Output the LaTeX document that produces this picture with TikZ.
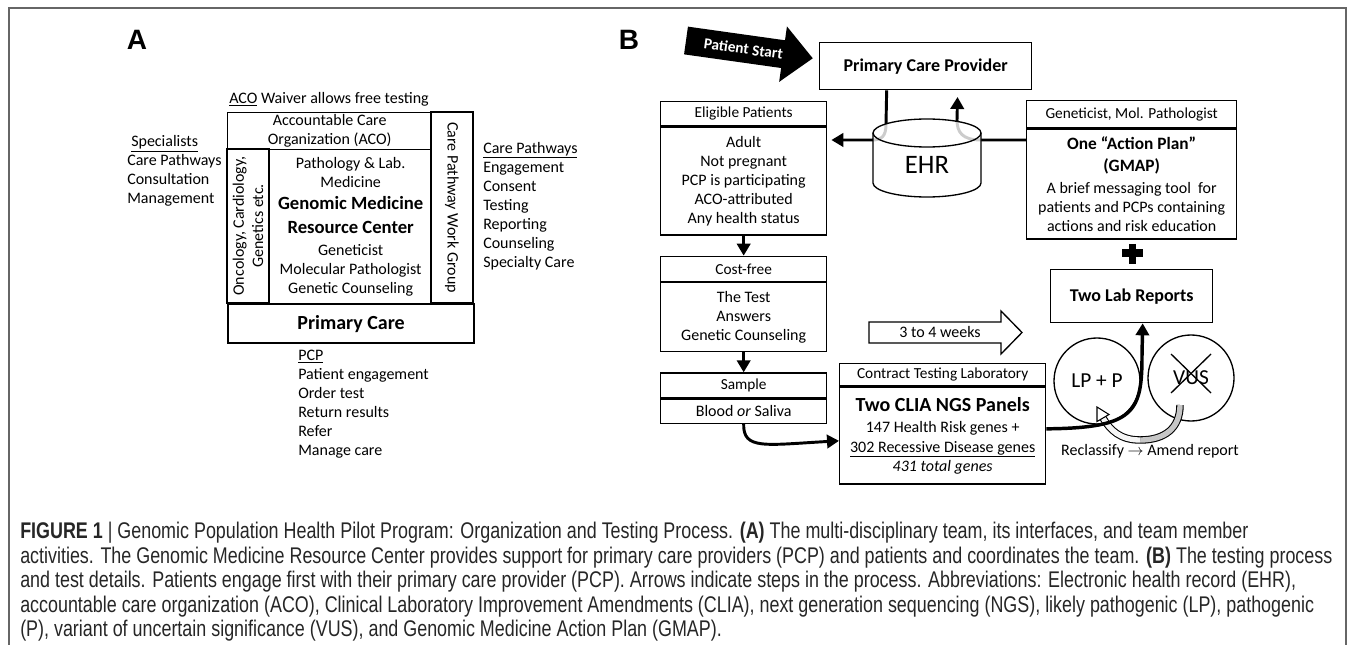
\documentclass[tikz,border=0pt]{standalone}
\usepackage{fontspec}
\setmainfont{Carlito}
\newfontfamily\capfont[FakeStretch=0.79]{Liberation Sans}
\newfontfamily\lblfont{Liberation Sans}
\usetikzlibrary{arrows.meta,positioning}

\newcommand{\bsz}[2]{{\fontsize{#1}{#1}\selectfont\bfseries #2}}

\begin{document}
\begin{tikzpicture}[x=0.75pt,y=-0.75pt,
    font=\fontsize{12}{14.3}\selectfont,
    box/.style={draw,line width=1pt,inner sep=0pt,align=center},
    hd/.style={box,font=\fontsize{11.5}{13}\selectfont},
    lst/.style={align=left,anchor=west,inner sep=0pt},
    panel/.style={font=\lblfont\bfseries\fontsize{21}{24}\selectfont},
    flow/.style={line width=2.2pt,-{Triangle[length=9pt,width=10pt]}}]
  \useasboundingbox (0,0) rectangle (1355,645);
  \draw[black!60,line width=0.8pt] (9,645) -- (9,8) -- (1346,8) -- (1346,645);

  % panel A
  \node[panel] (lA) at (137,40) {A};
  \node[anchor=west,inner sep=0pt] (waiver) at (229,99) {\underline{ACO} Waiver allows free testing};
  \node[box,anchor=north west,minimum width=153pt,minimum height=27.75pt] (aco) at (227,112)
    {Accountable Care\\Organization (ACO)};
  \node[box,rotate=90,minimum width=115.5pt,minimum height=31.5pt] (onc) at (248,226)
    {Oncology, Cardiology,\\Genetics etc.};
  \node[box,anchor=north west,minimum width=121.5pt,minimum height=115.5pt] (gmrc) at (269,149)
    {Pathology \& Lab.\\Medicine\\[2pt]\bsz{14}{Genomic Medicine}\\[4pt]\bsz{14}{Resource Center}\\[2pt]
     Geneticist\\Molecular Pathologist\\Genetic Counseling};
  \node[box,rotate=-90,minimum width=143.25pt,minimum height=31.5pt] (cpwg) at (452,207.5)
    {Care Pathway Work Group};
  \node[box,anchor=north west,line width=1.6pt,minimum width=184.5pt,minimum height=29.25pt,
    font=\bfseries\fontsize{15}{18}\selectfont] (pc) at (227,303) {Primary Care};
  \node[lst] (spec) at (127,171) {\hspace*{3pt}\underline{Specialists}\\Care Pathways\\Consultation\\Management};
  \node[lst] (paths) at (483,206) {\underline{Care Pathways}\\Engagement\\Consent\\Testing\\Reporting\\Counseling\\Specialty Care};
  \node[lst] (pcpl) at (298,404.5) {\underline{PCP}\\Patient engagement\\Order test\\Return results\\Refer\\Manage care};

  % panel B
  \node[panel] (lB) at (629,40) {B};
  \begin{scope}[shift={(686,40.5)},rotate=-8]
    \fill (0,-14) -- (98,-14) -- (98,-28) -- (128,0) -- (98,28) -- (98,14) -- (0,14) -- cycle;
    \node[text=white,rotate=-8,font=\bfseries\fontsize{11.5}{13}\selectfont] (start) at (58,0) {Patient Start};
  \end{scope}
  \node[box,anchor=north west,minimum width=159pt,minimum height=35.25pt,
    font=\bfseries\fontsize{13.5}{16}\selectfont] (pcp) at (819,42) {Primary Care Provider};

  \node[hd,anchor=north west,minimum width=124.5pt,minimum height=18pt] (eligh) at (660,101) {Eligible Patients};
  \node[box,minimum width=124.5pt,minimum height=81pt,below=0pt of eligh] (eligb)
    {Adult\\Not pregnant\\PCP is participating\\ACO-attributed\\Any health status};
  \node[hd,minimum width=124.5pt,minimum height=18.75pt,below=15pt of eligb] (costh) {Cost-free};
  \node[box,minimum width=124.5pt,minimum height=51.75pt,below=0pt of costh] (costb)
    {The Test\\Answers\\Genetic Counseling};
  \node[hd,minimum width=124.5pt,minimum height=18.75pt,below=15pt of costb] (samph) {Sample};
  \node[box,minimum width=124.5pt,minimum height=18pt,below=0pt of samph] (sampb) {Blood \textit{or} Saliva};

  \node[hd,anchor=north west,minimum width=157.5pt,minimum height=20.25pt] (gmaph) at (1026,100)
    {Geneticist, Mol. Pathologist};
  \node[box,minimum width=157.5pt,minimum height=82.5pt,below=0pt of gmaph] (gmapb)
    {\bsz{13}{One “Action Plan”}\\[2pt]\bsz{13}{(GMAP)}\\[2pt]A brief messaging tool\ \ for\\patients and PCPs containing\\actions and risk education};
  \draw[line width=5.5pt] (1122,253) -- (1143,253) (1132.5,244) -- (1132.5,264);
  \node[box,anchor=north west,minimum width=121.5pt,minimum height=39.75pt,
    font=\bfseries\fontsize{13.5}{16}\selectfont] (labr) at (1050,269) {Two Lab Reports};

  \draw[line width=1pt] (869,322) -- (1001,322) -- (1001,311) -- (1022,332.5) -- (1001,354)
    -- (1001,343) -- (869,343) -- cycle;
  \node (weeks) at (940,332) {3 to 4 weeks};

  \node[hd,anchor=north west,minimum width=154.5pt,minimum height=16.5pt] (conth) at (839,363)
    {Contract Testing Laboratory};
  \node[box,minimum width=154.5pt,minimum height=72.75pt,below=0pt of conth] (contb)
    {\bsz{15}{Two CLIA NGS Panels}\\[2pt]147 Health Risk genes +\\\underline{302 Recessive Disease genes}\\\textit{431 total genes}};

  \node[circle,draw,line width=1pt,minimum size=64.5pt,font=\fontsize{16}{18}\selectfont] (lpp) at (1097,381) {LP + P};
  \node[circle,draw,line width=1pt,minimum size=64.5pt,font=\fontsize{16}{18}\selectfont] (vus) at (1191,378) {VUS};
  \draw[line width=1pt] (1171,354) -- (1211,393) (1211,354) -- (1171,393);
  \node (recl) at (1150,451) {Reclassify $\rightarrow$ Amend report};

  % connectors
  \coordinate (ehrL) at (872,140);
  \coordinate (ehrR) at (981,140);
  \coordinate (ehrT) at (957,120);
  \draw[flow,shorten >=3pt] ([xshift=-29.25pt]pcp.south) -- (886,124)
    .. controls (886,136) and (882,140) .. (ehrL) -- (ehrL -| eligb.east);
  \draw[flow,shorten >=5pt] (ehrR -| gmapb.west) -- (ehrR)
    .. controls (962,140) and (957,132) .. (ehrT) -- ([xshift=24pt]pcp.south);
  \fill[white,fill opacity=0.8] (873,133) -- (873,183) arc[start angle=180,end angle=0,x radius=54,y radius=14]
    -- (981,133) arc[start angle=0,end angle=-180,x radius=54,y radius=14] -- cycle;
  \draw[line width=1pt] (873,133) -- (873,183) arc[start angle=180,end angle=0,x radius=54,y radius=14] -- (981,133);
  \draw[line width=1pt] (927,133) ellipse[x radius=54,y radius=14];
  \node[font=\fontsize{20}{24}\selectfont] (ehr) at (927,165) {EHR};

  \draw[flow] (eligb.south) -- (costh.north);
  \draw[flow] (costb.south) -- (samph.north);
  \draw[flow] (sampb.south) .. controls (743,450) and (765,445) .. ([yshift=-4pt]contb.west);

  \draw[line width=0.8pt,double=gray!45,double distance=4pt] (1180,405)
    .. controls (1180,428) and (1165,440) .. (1140,440);
  \draw[line width=0.8pt,double=gray!8,double distance=4pt] (1140,440)
    .. controls (1120,440) and (1110,430) .. (1103,418);
  \draw[line width=0.8pt,fill=white] (1109,414.5) -- (1097,407) -- (1097,421.5) -- cycle;
  \draw[line width=2.6pt,-{Triangle[length=9pt,width=10pt]}] ([yshift=5pt]contb.east)
    .. controls (1135,428) and (1142,412) .. (1142,355) -- ([xshift=8.25pt]labr.south);

  % caption
  \node[anchor=north west,inner sep=0pt,align=left,text=black!85,
    font=\capfont\fontsize{17}{18.4}\selectfont] (cap) at (20,522)
    {\textbf{FIGURE 1} | Genomic Population Health Pilot Program: Organization and Testing Process. \textbf{(A)} The multi-disciplinary team, its interfaces, and team member\\
     activities. The Genomic Medicine Resource Center provides support for primary care providers (PCP) and patients and coordinates the team. \textbf{(B)} The testing process\\
     and test details. Patients engage first with their primary care provider (PCP). Arrows indicate steps in the process. Abbreviations: Electronic health record (EHR),\\
     accountable care organization (ACO), Clinical Laboratory Improvement Amendments (CLIA), next generation sequencing (NGS), likely pathogenic (LP), pathogenic\\
     (P), variant of uncertain significance (VUS), and Genomic Medicine Action Plan (GMAP).};
\end{tikzpicture}
\end{document}
